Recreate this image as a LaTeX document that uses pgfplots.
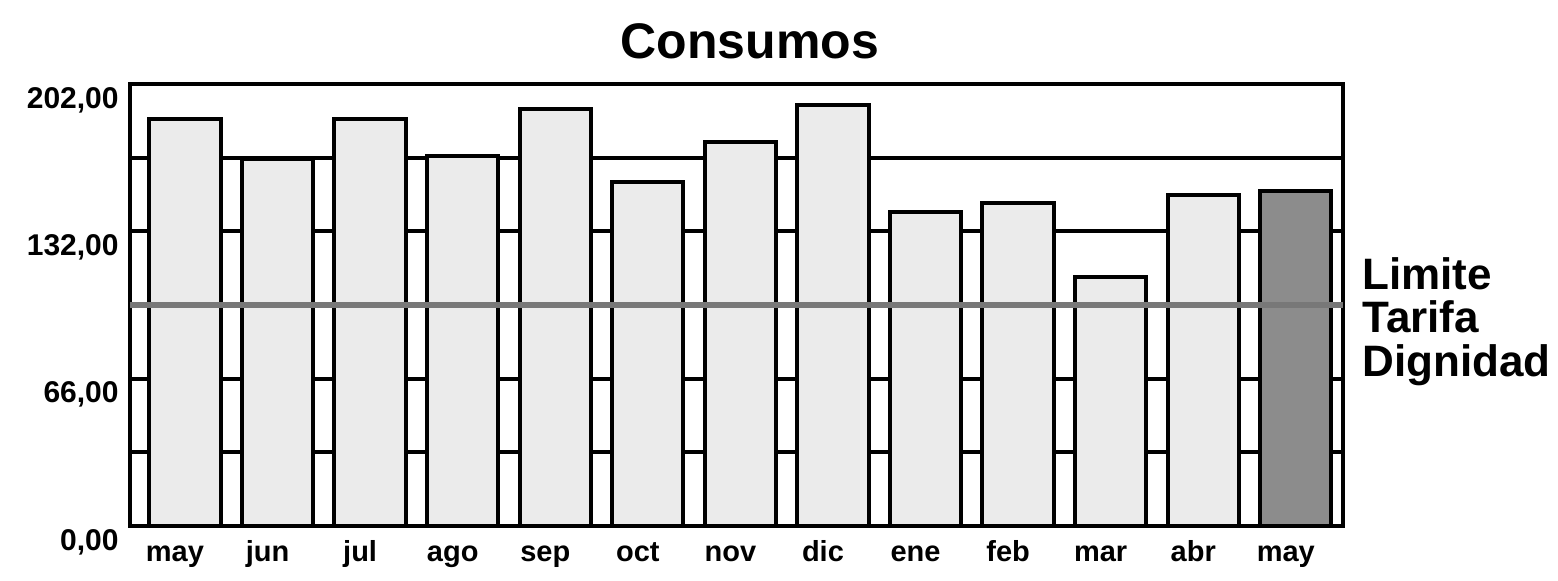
\documentclass[border=0pt]{standalone}
\usepackage{fontspec}
\setmainfont{Liberation Sans}
\usepackage{pgfplots}
\pgfplotsset{compat=1.18}
\definecolor{barlight}{gray}{0.92}
\definecolor{bardark}{gray}{0.55}
\definecolor{limline}{gray}{0.47}
\begin{document}
\begin{tikzpicture}
\path[use as bounding box] (-65pt,-27pt) rectangle (714pt,263pt);
\begin{axis}[
  at={(0pt,0pt)}, anchor=south west,
  scale only axis, width=606.5pt, height=221pt,
  xmin=-0.594, xmax=12.51, ymin=0, ymax=202,
  axis line style={line width=2pt},
  xtick={0,...,12},
  xticklabels={may,jun,jul,ago,sep,oct,nov,dic,ene,feb,mar,abr,may},
  ytick={0,33.6667,67.3333,101,134.6667,168.3333,202},
  yticklabels={{0,00},{},{66,00},{},{132,00},{},{202,00}},
  major tick length=0pt,
  ymajorgrids, grid style={black, line width=2pt},
  xticklabel style={font=\fontsize{14.5pt}{17pt}\selectfont\bfseries, anchor=base, inner sep=0pt, yshift=-17.5pt, xshift=-5pt},
  yticklabel style={font=\fontsize{15pt}{18pt}\selectfont\bfseries, anchor=east, inner sep=0pt, xshift=-5.5pt, yshift=-8pt},
  title={Consumos},
  every axis title shift=0pt,
  title style={font=\fontsize{25pt}{30pt}\selectfont\bfseries, at={(axis description cs:0.5111,1.0566)}, anchor=base, inner sep=0pt, yshift=0pt},
  clip=false,
]
\addplot[ybar, bar width=0.77, bar shift=0pt, fill=barlight, draw=black, line width=2pt]
  coordinates {(0,186) (1,167.5) (2,186) (3,169) (4,190.5) (5,157) (6,175.5) (7,192.5) (8,143.5) (9,147.8) (10,113.7) (11,151.3)};
\addplot[ybar, bar width=0.77, bar shift=0pt, fill=bardark, draw=black, line width=2pt]
  coordinates {(12,153.2)};
\addplot[limline, line width=2.6pt] coordinates {(-0.594,101) (12.51,101)};
\node[anchor=west, align=left, inner sep=0pt, font=\fontsize{22pt}{21.75pt}\selectfont\bfseries] at (axis description cs:1.0157,0.4627) {Limite\\Tarifa\\Dignidad};
\end{axis}
\end{tikzpicture}
\end{document}
